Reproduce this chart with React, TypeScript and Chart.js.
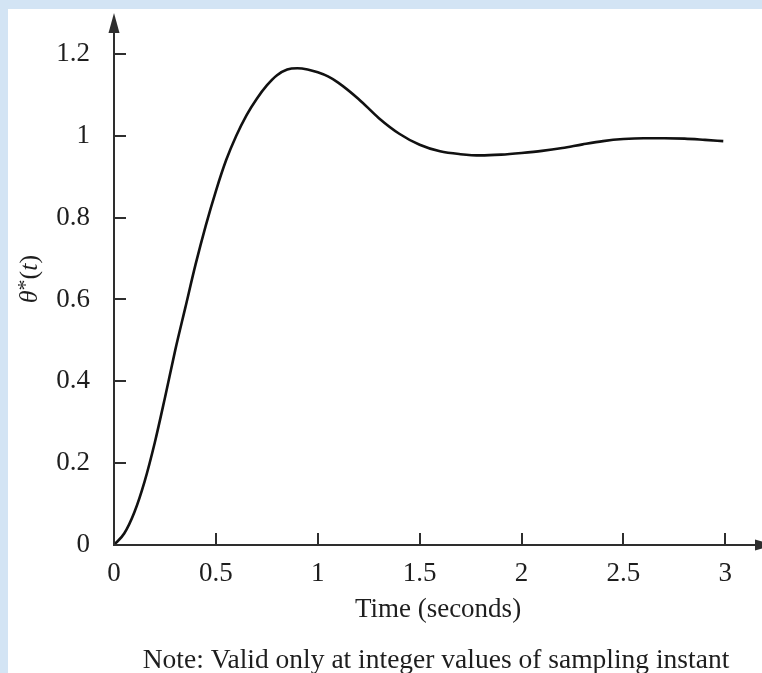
import React, { useEffect, useRef } from "react";
import { Chart, registerables } from "chart.js";

Chart.register(...registerables);

// ---- data ----
const TIME = [
  0, 0.05, 0.1, 0.15, 0.2, 0.25, 0.3, 0.35, 0.4, 0.45, 0.5, 0.55, 0.6, 0.65,
  0.7, 0.75, 0.8, 0.85, 0.9, 0.95, 1.0, 1.05, 1.1, 1.2, 1.3, 1.4, 1.5, 1.6,
  1.7, 1.8, 1.9, 2.0, 2.1, 2.2, 2.3, 2.4, 2.5, 2.6, 2.7, 2.8, 2.9, 2.99,
];
const THETA = [
  0, 0.028, 0.08, 0.155, 0.25, 0.36, 0.475, 0.58, 0.685, 0.78, 0.865, 0.94,
  1.0, 1.05, 1.09, 1.123, 1.148, 1.162, 1.165, 1.162, 1.155, 1.145, 1.13,
  1.09, 1.043, 1.005, 0.978, 0.962, 0.955, 0.952, 0.954, 0.958, 0.963, 0.97,
  0.979, 0.987, 0.992, 0.994, 0.994, 0.993, 0.99, 0.987,
];
const X_TICKS = [0, 0.5, 1, 1.5, 2, 2.5, 3];
const Y_TICKS = [0, 0.2, 0.4, 0.6, 0.8, 1, 1.2];
const X_TITLE = "Time (seconds)";
const NOTE = "Note: Valid only at integer values of sampling instant";

const FONT = "'Liberation Serif', 'Times New Roman', serif";
const TEXT_COLOR = "#1e1e1e";
const AXIS_COLOR = "#2e2e2e";
const BG_BLUE = "#d3e4f4";

const axesPlugin = {
  id: "axesArrows",
  afterDraw(chart: any) {
    const { ctx, chartArea, scales } = chart;
    const xs = scales.x;
    const ys = scales.y;
    const x0 = xs.getPixelForValue(0);
    const y0 = ys.getPixelForValue(0);
    ctx.save();
    ctx.strokeStyle = AXIS_COLOR;
    ctx.fillStyle = AXIS_COLOR;
    ctx.lineWidth = 2;
    ctx.lineCap = "butt";

    // y axis
    ctx.beginPath();
    ctx.moveTo(x0, y0 + 1);
    ctx.lineTo(x0, chartArea.top + 12);
    ctx.stroke();
    ctx.beginPath();
    ctx.moveTo(x0, chartArea.top);
    ctx.lineTo(x0 - 5.5, chartArea.top + 20);
    ctx.lineTo(x0 + 5.5, chartArea.top + 20);
    ctx.closePath();
    ctx.fill();

    // x axis
    const tipX = chartArea.right + 13;
    ctx.beginPath();
    ctx.moveTo(x0 - 1, y0);
    ctx.lineTo(tipX - 12, y0);
    ctx.stroke();
    ctx.beginPath();
    ctx.moveTo(tipX, y0);
    ctx.lineTo(tipX - 20, y0 - 5.5);
    ctx.lineTo(tipX - 20, y0 + 5.5);
    ctx.closePath();
    ctx.fill();

    // inward tick marks
    X_TICKS.forEach((v) => {
      if (v === 0) return;
      const px = Math.round(xs.getPixelForValue(v));
      ctx.beginPath();
      ctx.moveTo(px, y0);
      ctx.lineTo(px, y0 - 12);
      ctx.stroke();
    });
    Y_TICKS.forEach((v) => {
      if (v === 0) return;
      const py = Math.round(ys.getPixelForValue(v));
      ctx.beginPath();
      ctx.moveTo(x0, py);
      ctx.lineTo(x0 + 12, py);
      ctx.stroke();
    });

    // note under the axis title
    ctx.fillStyle = TEXT_COLOR;
    ctx.font = `27.5px ${FONT}`;
    ctx.textAlign = "center";
    ctx.textBaseline = "alphabetic";
    ctx.fillText(NOTE, 436, 668);

    // y axis title: θ*(t) with italic θ and t
    const cy = (ys.getPixelForValue(0) + chartArea.top) / 2;
    ctx.translate(37, cy);
    ctx.rotate(-Math.PI / 2);
    ctx.textBaseline = "alphabetic";
    ctx.textAlign = "left";
    const parts = [
      { t: "\u03b8", f: `italic 26px ${FONT}`, dy: 0 },
      { t: "*", f: `22px ${FONT}`, dy: -5 },
      { t: "(", f: `26px ${FONT}`, dy: 0 },
      { t: "t", f: `italic 26px ${FONT}`, dy: 0 },
      { t: ")", f: `26px ${FONT}`, dy: 0 },
    ];
    let total = 0;
    const widths = parts.map((p) => {
      ctx.font = p.f;
      const w = ctx.measureText(p.t).width;
      total += w;
      return w;
    });
    let x = -total / 2;
    parts.forEach((p, i) => {
      ctx.font = p.f;
      ctx.fillText(p.t, x, p.dy);
      x += widths[i];
    });
    ctx.restore();
  },
};

export default function App() {
  const canvasRef = useRef<HTMLCanvasElement | null>(null);

  useEffect(() => {
    const canvas = canvasRef.current;
    if (!canvas) return;
    const points = TIME.map((t, i) => ({ x: t, y: THETA[i] }));
    const tickFont = { family: FONT, size: 27, lineHeight: 1.2 };
    const chart = new Chart(canvas, {
      type: "line",
      data: {
        datasets: [
          {
            data: points,
            borderColor: "#111111",
            borderWidth: 2.6,
            pointRadius: 0,
            fill: false,
            cubicInterpolationMode: "monotone",
          },
        ],
      },
      options: {
        responsive: false,
        animation: false,
        devicePixelRatio: 1,
        layout: { padding: { top: 13, left: 0, right: 0, bottom: 29.7 } },
        plugins: {
          legend: { display: false },
          tooltip: { enabled: false },
          title: { display: false },
          subtitle: { display: false },
        },
        scales: {
          x: {
            type: "linear",
            min: 0,
            max: 3.18,
            grid: { display: false },
            border: { display: false },
            afterBuildTicks: (s: any) => {
              s.ticks = X_TICKS.map((value) => ({ value }));
            },
            afterFit: (s: any) => {
              s.height = 98.3;
              s.paddingLeft = 0;
              s.paddingRight = 0;
            },
            ticks: {
              font: tickFont,
              color: TEXT_COLOR,
              padding: 5,
              maxRotation: 0,
              autoSkip: false,
              callback: (v: any) => String(v),
            },
            title: {
              display: true,
              text: X_TITLE,
              color: TEXT_COLOR,
              font: tickFont,
              padding: { top: 0, bottom: 17 },
            },
          },
          y: {
            type: "linear",
            min: 0,
            max: 1.3,
            grid: { display: false },
            border: { display: false },
            afterBuildTicks: (s: any) => {
              s.ticks = Y_TICKS.map((value) => ({ value }));
            },
            afterFit: (s: any) => {
              s.width = 114;
              s.paddingTop = 0;
              s.paddingBottom = 0;
            },
            ticks: {
              font: tickFont,
              color: TEXT_COLOR,
              padding: 16,
              autoSkip: false,
              callback: (v: any) => String(v),
            },
          },
        },
      },
      plugins: [axesPlugin],
    } as any);
    return () => chart.destroy();
  }, []);

  return (
    <div
      style={{
        position: "absolute",
        left: 0,
        top: 0,
        width: 762,
        height: 673,
        background: BG_BLUE,
        overflow: "hidden",
      }}
    >
      <div
        style={{
          position: "absolute",
          left: 8,
          top: 9,
          right: 0,
          bottom: 0,
          background: "#ffffff",
        }}
      />
      <canvas
        ref={canvasRef}
        width={762}
        height={673}
        style={{ position: "absolute", left: 0, top: 0, width: 762, height: 673 }}
      />
    </div>
  );
}
